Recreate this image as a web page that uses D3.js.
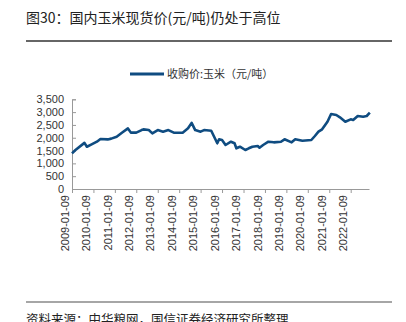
<!DOCTYPE html>
<html><head><meta charset="utf-8">
<script src="https://cdn.jsdelivr.net/npm/d3@7"></script>
<style>body{margin:0;background:#fff}svg{display:block;font-family:"Noto Sans CJK SC","Liberation Sans",sans-serif}</style>
</head><body><svg id="c" width="406" height="322"></svg>
<script>
const dates = ["2009-01-09","2009-03-09","2009-08-09","2009-09-20","2009-12-09","2010-03-09","2010-05-09","2010-09-09","2010-11-09","2011-02-09","2011-05-09","2011-08-20","2011-10-09","2012-01-09","2012-04-09","2012-05-09","2012-08-09","2012-10-09","2013-01-09","2013-04-09","2013-07-09","2013-10-09","2014-03-09","2014-06-09","2014-08-09","2014-10-09","2015-01-09","2015-03-09","2015-07-09","2015-09-09","2015-10-20","2015-11-20","2016-01-09","2016-03-09","2016-06-09","2016-08-09","2016-09-09","2016-11-09","2017-02-09","2017-04-09","2017-06-09","2017-09-09","2017-10-09","2017-12-09","2018-03-09","2018-06-09","2018-10-09","2018-12-09","2019-04-09","2019-06-09","2019-10-09","2020-03-09","2020-05-09","2020-07-09","2020-09-09","2020-12-09","2021-02-09","2021-05-09","2021-07-09","2021-10-09","2022-01-09","2022-02-20","2022-05-09","2022-08-09","2022-10-09","2022-12-01"];
const prices = [1390,1520,1800,1650,1740,1845,1950,1935,1965,2040,2195,2365,2200,2200,2300,2328,2300,2172,2300,2236,2300,2197,2197,2367,2580,2300,2236,2300,2275,1978,1783,1939,1912,1717,1845,1783,1588,1650,1522,1588,1650,1677,1612,1717,1845,1821,1845,1939,1821,1939,1885,1912,2068,2236,2328,2626,2926,2887,2797,2626,2719,2692,2848,2821,2848,2977];
const yTicks = [0,500,1000,1500,2000,2500,3000,3500];
const xTickLabels = ["2009-01-09","2010-01-09","2011-01-09","2012-01-09","2013-01-09","2014-01-09","2015-01-09","2016-01-09","2017-01-09","2018-01-09","2019-01-09","2020-01-09","2021-01-09","2022-01-09"];
const title = "图30：国内玉米现货价(元/吨)仍处于高位";
const seriesName = "收购价:玉米（元/吨）";
const source = "资料来源：中华粮网，国信证券经济研究所整理";

const parse = d3.timeParse("%Y-%m-%d");
const data = dates.map((d,i)=>({t:parse(d), v:prices[i]}));
const svg = d3.select("#c");
const L=72, R=369, T=99.3, B=189;
const x = d3.scaleTime().domain([parse("2009-01-09"), parse("2022-11-15")]).range([L, R]);
// calibrate: 2022-01-09 at ~350.7
x.domain([parse("2009-01-09"), new Date(parse("2009-01-09").getTime() + (parse("2022-01-09")-parse("2009-01-09"))*(R-L)/(350.7-L))]);
const y = d3.scaleLinear().domain([0,3500]).range([B,T]);

svg.append("text").attr("x",26).attr("y",23).attr("font-size",14).attr("fill","#222").text(title);
svg.append("line").attr("x1",26).attr("x2",392).attr("y1",41).attr("y2",41).attr("stroke","#333").attr("stroke-width",1.3);
svg.append("line").attr("x1",26).attr("x2",392).attr("y1",302).attr("y2",302).attr("stroke","#888").attr("stroke-width",1.5);
svg.append("text").attr("x",26).attr("y",324).attr("font-size",12.5).attr("fill","#222").text(source);

const col="#0f4c81";
svg.append("line").attr("x1",130).attr("x2",164).attr("y1",74).attr("y2",74).attr("stroke",col).attr("stroke-width",3);
svg.append("text").attr("x",167).attr("y",78).attr("font-size",11).attr("fill","#333").text(seriesName);

const yAxis = svg.append("g").attr("transform",`translate(${L},0)`)
  .call(d3.axisLeft(y).tickValues(yTicks).tickSize(-4).tickPadding(8).tickFormat(d3.format(",")));
yAxis.select(".domain").attr("stroke","#999");
yAxis.selectAll(".tick line").attr("stroke","#999");
yAxis.selectAll("text").attr("font-size",11).attr("fill","#333").attr("font-family","Liberation Sans, Arial, sans-serif");

const xAxis = svg.append("g").attr("transform",`translate(0,${B})`)
  .call(d3.axisBottom(x).tickValues(xTickLabels.map(parse)).tickSize(4).tickSizeOuter(0).tickFormat(d3.timeFormat("%Y-%m-%d")));
xAxis.select(".domain").attr("stroke","#999");
xAxis.selectAll(".tick line").attr("stroke","#999");
xAxis.selectAll("text").attr("font-size",11).attr("fill","#333").attr("font-family","Liberation Sans, Arial, sans-serif")
  .attr("transform","rotate(-90)").attr("text-anchor","end").attr("dx","-6").attr("dy","-0.35em").attr("y",0).attr("x",0);

svg.append("path").datum(data).attr("fill","none").attr("stroke",col).attr("stroke-width",2.6).attr("stroke-linejoin","round")
  .attr("d", d3.line().x(d=>x(d.t)).y(d=>y(d.v)));
</script></body></html>
